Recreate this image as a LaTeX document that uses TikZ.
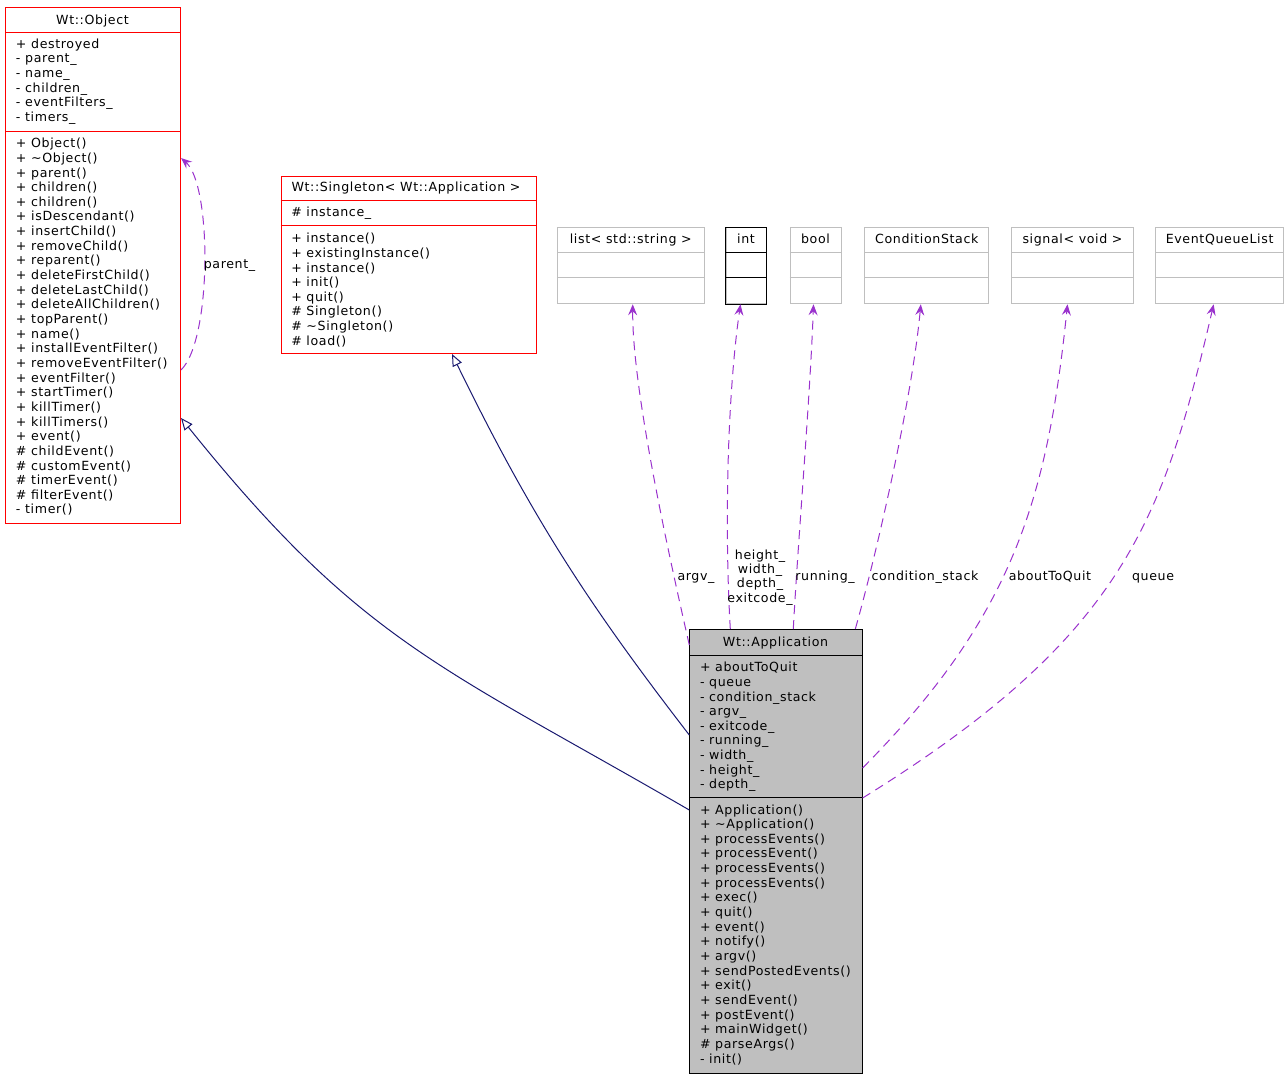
\documentclass[tikz,border=0pt]{standalone}
\usepackage{fontspec}
\setmainfont[LetterSpace=5]{DejaVu Sans}
\usepackage{xcolor}
\usepackage{tikz}
\usetikzlibrary{calc,arrows.meta}
\definecolor{umlRed}{HTML}{FF0000}
\definecolor{umlGray}{HTML}{BFBFBF}
\definecolor{umlNavy}{HTML}{191970}
\definecolor{umlPurple}{HTML}{9A32CD}
\newcommand{\memberFont}{\fontsize{12.6}{14.4}\selectfont}
\newcommand{\rowStep}{14.65}
\newcommand{\objectAttrs}{+ destroyed, - parent\_, - name\_, - children\_, - eventFilters\_, - timers\_}
\newcommand{\objectOps}{+ Object(), + \textasciitilde Object(), + parent(), + children(), + children(), + isDescendant(), + insertChild(), + removeChild(), + reparent(), + deleteFirstChild(), + deleteLastChild(), + deleteAllChildren(), + topParent(), + name(), + installEventFilter(), + removeEventFilter(), + eventFilter(), + startTimer(), + killTimer(), + killTimers(), + event(), \# childEvent(), \# customEvent(), \# timerEvent(), \# filterEvent(), - timer()}
\newcommand{\singletonOps}{+ instance(), + existingInstance(), + instance(), + init(), + quit(), \# Singleton(), \# \textasciitilde Singleton(), \# load()}
\newcommand{\appAttrs}{+ aboutToQuit, - queue, - condition\_stack, - argv\_, - exitcode\_, - running\_, - width\_, - height\_, - depth\_}
\newcommand{\appOps}{+ Application(), + \textasciitilde Application(), + processEvents(), + processEvent(), + processEvents(), + processEvents(), + exec(), + quit(), + event(), + notify(), + argv(), + sendPostedEvents(), + exit(), + sendEvent(), + postEvent(), + mainWidget(), \# parseArgs(), - init()}
% small type boxes: name/left/width/title
\newcommand{\typeBoxes}{listString/557/146.5/{list< std::string >}, intType/725.5/40/int, boolType/789.5/51/bool, condStack/864.3/124/ConditionStack, signalVoid/1011.3/121.4/{signal< void >}, eventQueue/1155.3/127.7/EventQueueList}

\begin{document}
\begin{tikzpicture}[x=1pt, y=-1pt, line width=1pt,
		classbox/.style={draw, rectangle, anchor=north west, inner sep=0pt},
		member/.style={anchor=base west, inner sep=0pt, font=\memberFont},
		title/.style={anchor=base, inner sep=0pt, font=\memberFont},
		edgelabel/.style={anchor=base, inner sep=0pt, font=\memberFont, align=center},
		inherit/.style={draw=umlNavy, -{Triangle[open, length=12pt, width=10pt, fill=white]}},
		depend/.style={draw=umlPurple, dash pattern=on 9pt off 6pt, -{Stealth[length=11pt, width=9pt, inset=4pt]}}]

	\useasboundingbox (0,0) rectangle (1288,1077);

	% Wt::Object
	\node[classbox, draw=umlRed, minimum width=175, minimum height=516] (object) at (5,7) {};
	\draw[umlRed] (object.west |- 0,32) -- (object.east |- 0,32);
	\draw[umlRed] (object.west |- 0,131) -- (object.east |- 0,131);
	\node[title] (objectTitle) at (92.5,24) {Wt::Object};
	\foreach \txt [count=\n from 0] in \objectAttrs
	{
		\node[member] (objectAttr\n) at (15.5,{48.3+\n*\rowStep}) {\txt};
	}
	\foreach \txt [count=\n from 0] in \objectOps
	{
		\node[member] (objectOp\n) at (15.5,{147.7+\n*\rowStep}) {\txt};
	}

	% Wt::Singleton
	\node[classbox, draw=umlRed, minimum width=255, minimum height=177] (singleton) at (280.5,176) {};
	\draw[umlRed] (singleton.west |- 0,200.7) -- (singleton.east |- 0,200.7);
	\draw[umlRed] (singleton.west |- 0,225.3) -- (singleton.east |- 0,225.3);
	\node[title] (singletonTitle) at (406,191.7) {Wt::Singleton< Wt::Application >};
	\node[member] (singletonAttr0) at (290.8,216.7) {\# instance\_};
	\foreach \txt [count=\n from 0] in \singletonOps
	{
		\node[member] (singletonOp\n) at (290.8,{242.7+\n*\rowStep}) {\txt};
	}

	% member types
	\foreach \name/\left/\width/\txt in \typeBoxes
	{
		\node[classbox, draw=umlGray, minimum width=\width, minimum height=76] (\name) at (\left,227.3) {};
		\draw[umlGray] (\name.west |- 0,252.3) -- (\name.east |- 0,252.3);
		\draw[umlGray] (\name.west |- 0,277.8) -- (\name.east |- 0,277.8);
		\node[title] (\name Title) at ($(\name.north)+(0,16.5)$) {\txt};
	}
	\draw (intType.north west) rectangle (intType.south east);
	\draw (intType.west |- 0,252.3) -- (intType.east |- 0,252.3);
	\draw (intType.west |- 0,277.8) -- (intType.east |- 0,277.8);

	% Wt::Application
	\node[classbox, fill=umlGray, minimum width=172.3, minimum height=444] (application) at (689.3,629) {};
	\draw (application.west |- 0,655.7) -- (application.east |- 0,655.7);
	\draw (application.west |- 0,797.7) -- (application.east |- 0,797.7);
	\node[title] (applicationTitle) at (775.5,646.7) {Wt::Application};
	\foreach \txt [count=\n from 0] in \appAttrs
	{
		\node[member] (appAttr\n) at (699.5,{671.7+\n*\rowStep}) {\txt};
	}
	\foreach \txt [count=\n from 0] in \appOps
	{
		\node[member] (appOp\n) at (699.5,{814+\n*\rowStep}) {\txt};
	}

	% inheritance
	\draw[inherit] ($(application.north west)+(0,181)$) .. controls (439,665) and (361,642) .. ($(object.north east)+(0,411)$);
	\draw[inherit] ($(application.north west)+(0,106)$) .. controls (589,605) and (532,518) .. ($(singleton.south west)+(171.5,0)$);

	% usage
	\draw[depend] ($(object.north east)+(0,363)$) .. controls (212,340) and (212,185) .. ($(object.north east)+(0,151)$);
	\draw[depend] ($(application.north west)+(0,16)$) .. controls (670,560) and (632,390) .. ($(listString.south)+(2,0)$);
	\draw[depend] ($(application.north west)+(41,0)$) .. controls (724,520) and (728,390) .. ($(intType.south)+(-5.5,0)$);
	\draw[depend] ($(application.north west)+(104,0)$) .. controls (798,540) and (810,400) .. ($(boolType.south)+(-2,0)$);
	\draw[depend] ($(application.north west)+(166,0)$) .. controls (875,560) and (912,400) .. ($(condStack.south)+(-6,0)$);
	\draw[depend] ($(application.north east)+(0,139)$) .. controls (1011,618) and (1047,503) .. ($(signalVoid.south)+(-5,0)$);
	\draw[depend] ($(application.north east)+(0,169)$) .. controls (1121,638) and (1163,523) .. ($(eventQueue.south)+(-6,0)$);

	\node[member] (lblParent) at (203.3,268.3) {parent\_};
	\node[edgelabel] (lblArgv) at (696,580) {argv\_};
	\node[edgelabel, font=\fontsize{12.6}{14.3}\selectfont] (lblInt) at (760,602.2) {height\_\\width\_\\depth\_\\exitcode\_};
	\node[edgelabel] (lblRunning) at (825,580) {running\_};
	\node[edgelabel] (lblCondition) at (925,580) {condition\_stack};
	\node[edgelabel] (lblAbout) at (1050,580) {aboutToQuit};
	\node[edgelabel] (lblQueue) at (1153,580) {queue};
\end{tikzpicture}
\end{document}
